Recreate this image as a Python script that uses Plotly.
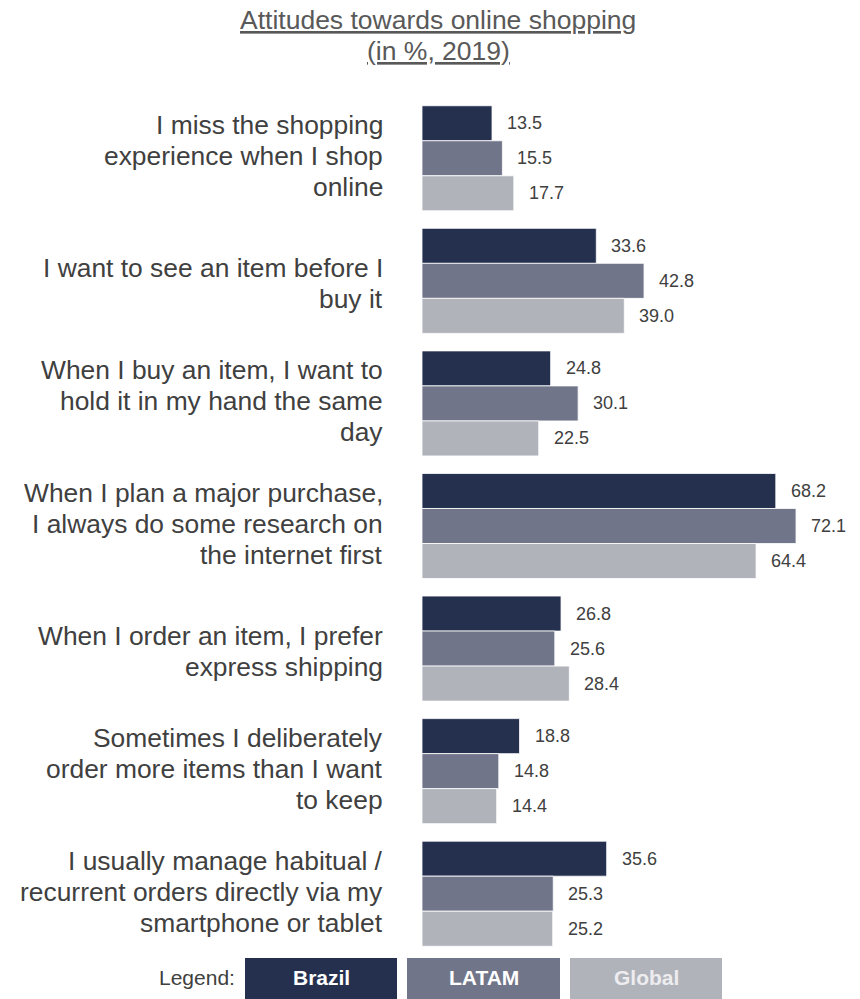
import plotly.graph_objects as go

# ---- data -------------------------------------------------------------
categories = [
    "I miss the shopping<br>experience when I shop<br>online",
    "I want to see an item before I<br>buy it",
    "When I buy an item, I want to<br>hold it in my hand the same<br>day",
    "When I plan a major purchase,<br>I always do some research on<br>the internet first",
    "When I order an item, I prefer<br>express shipping",
    "Sometimes I deliberately<br>order more items than I want<br>to keep",
    "I usually manage habitual /<br>recurrent orders directly via my<br>smartphone or tablet",
]
brazil = [13.5, 33.6, 24.8, 68.2, 26.8, 18.8, 35.6]
latam = [15.5, 42.8, 30.1, 72.1, 25.6, 14.8, 25.3]
global_ = [17.7, 39.0, 22.5, 64.4, 28.4, 14.4, 25.2]
series_names = ["Brazil", "LATAM", "Global"]

title_lines = ["Attitudes towards online shopping", "(in %, 2019)"]

# ---- styling ----------------------------------------------------------
FONT = "Arial, Liberation Sans, sans-serif"
colors = ["#25304F", "#717589", "#B1B3BB"]
legend_text_colors = ["#FFFFFF", "#FFFFFF", "#EDEDEF"]
TEXT = "#404040"
TITLE = "#595959"

W, H = 860, 999
M_L, M_R, M_T, M_B = 422, 23, 97, 44
PW, PH = W - M_L - M_R, H - M_T - M_B


def px_x(px):
    return (px - M_L) / PW


def px_y(py):
    return (H - M_B - py) / PH


bar_w = 0.2857
offsets = [-bar_w, 0.0, bar_w]
idx = list(range(len(categories)))

fig = go.Figure()
annotations = []
for name, vals, col, off in zip(series_names, [brazil, latam, global_], colors, offsets):
    ys = [i + off for i in idx]
    fig.add_trace(go.Bar(
        x=vals, y=ys, orientation="h", width=bar_w, name=name,
        marker=dict(color=col, line=dict(color="white", width=0.8)),
        showlegend=False, hoverinfo="x+name",
    ))
    for v, yy in zip(vals, ys):
        annotations.append(dict(
            x=v, y=yy, xref="x", yref="y", text=f"{v:.1f}", showarrow=False,
            xanchor="left", yanchor="middle", xshift=13,
            font=dict(family=FONT, size=18, color=TEXT),
        ))

# category labels, one annotation per line for tight line spacing
LINE = 31
block_shift = {2: -3, 3: 2}
for i, cat in enumerate(categories):
    lines = cat.split("<br>")
    n = len(lines)
    for j, ln in enumerate(lines):
        annotations.append(dict(
            x=0, y=i, xref="paper", yref="y", text=ln, showarrow=False,
            xanchor="right", yanchor="middle", xshift=-37,
            yshift=((n - 1) / 2 - j) * LINE + block_shift.get(n, 0),
            font=dict(family=FONT, size=26.4, color=TEXT),
        ))

# title
for j, (t, py) in enumerate(zip(title_lines, [20, 51])):
    annotations.append(dict(
        x=px_x(438), y=px_y(py), xref="paper", yref="paper",
        text=f"<u>{t}</u>", showarrow=False, xanchor="center", yanchor="middle",
        font=dict(family=FONT, size=26.5, color=TITLE),
    ))

# legend drawn as coloured boxes
annotations.append(dict(
    x=px_x(237), y=px_y(978), xref="paper", yref="paper", text="Legend:",
    showarrow=False, xanchor="right", yanchor="middle",
    font=dict(family=FONT, size=21, color=TEXT),
))
shapes = []
box_x = [(245, 397), (407, 560), (570, 722)]
for name, col, tcol, (x0, x1) in zip(series_names, colors, legend_text_colors, box_x):
    shapes.append(dict(
        type="rect", xref="paper", yref="paper",
        x0=px_x(x0), x1=px_x(x1), y0=px_y(999), y1=px_y(958),
        fillcolor=col, line=dict(width=0), layer="above",
    ))
    annotations.append(dict(
        x=px_x((x0 + x1) / 2), y=px_y(978), xref="paper", yref="paper",
        text=f"<b>{name}</b>", showarrow=False, xanchor="center", yanchor="middle",
        font=dict(family=FONT, size=21, color=tcol),
    ))

fig.update_layout(
    width=W, height=H,
    margin=dict(l=M_L, r=M_R, t=M_T, b=M_B),
    paper_bgcolor="white", plot_bgcolor="white",
    barmode="overlay",
    xaxis=dict(range=[0, 80], visible=False, fixedrange=True),
    yaxis=dict(range=[6.5, -0.5], visible=False, fixedrange=True),
    annotations=annotations,
    shapes=shapes,
    font=dict(family=FONT),
)

fig.write_html("out.html", config={"displayModeBar": False})
